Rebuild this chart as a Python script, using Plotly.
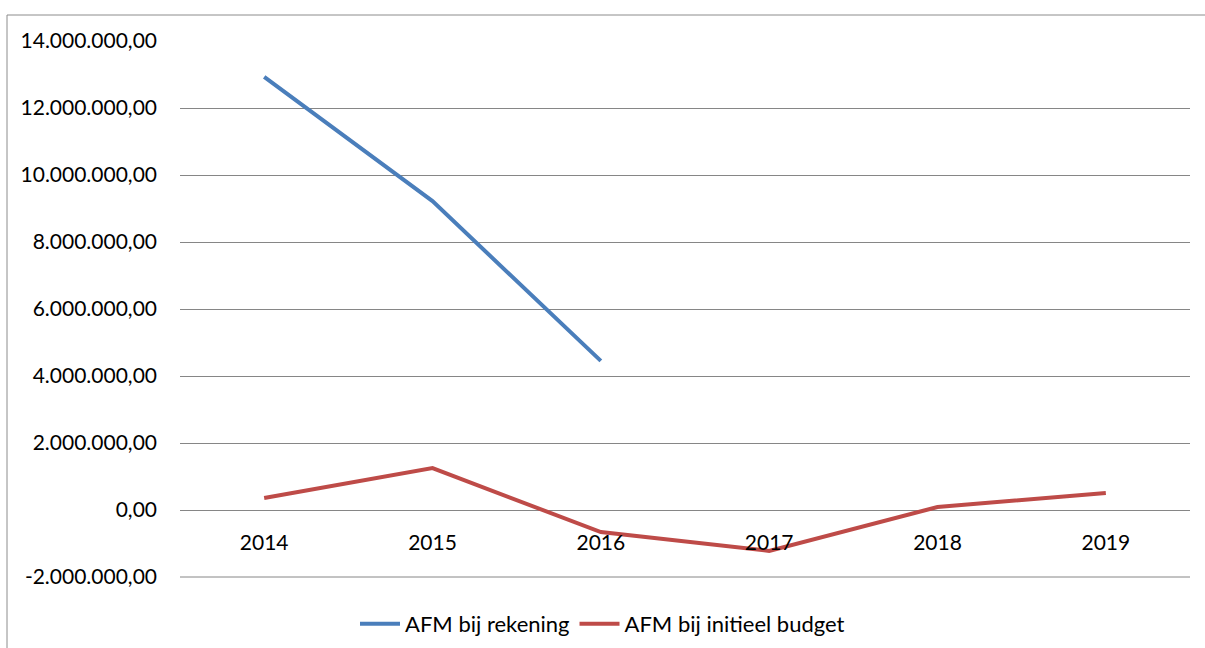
import plotly.graph_objects as go

years = ["2014", "2015", "2016", "2017", "2018", "2019"]
afm_rekening = [12930000, 9220000, 4450000, None, None, None]
afm_budget = [360000, 1250000, -660000, -1220000, 90000, 510000]

y_ticks = [-2000000, 0, 2000000, 4000000, 6000000, 8000000, 10000000, 12000000, 14000000]
y_tick_labels = ["-2.000.000,00", "0,00", "2.000.000,00", "4.000.000,00", "6.000.000,00",
                 "8.000.000,00", "10.000.000,00", "12.000.000,00", "14.000.000,00"]

FONT = "Lato, 'Open Sans', sans-serif"
FONT_SIZE = 21
GRID = "#868686"

fig = go.Figure()
fig.add_trace(go.Scatter(
    x=years, y=afm_rekening, mode="lines", name="AFM bij rekening",
    line=dict(color="#4A7EBB", width=4), connectgaps=False,
))
fig.add_trace(go.Scatter(
    x=years, y=afm_budget, mode="lines", name="AFM bij initieel budget",
    line=dict(color="#BE4B48", width=4),
))

# small padding so the outer gridlines stay visible
pad = 30000
y_min, y_max = y_ticks[0] - pad, y_ticks[-1] + pad
px_per_unit = 536 / (y_ticks[-1] - y_ticks[0])
edge = pad * px_per_unit
top, bottom = 41 - edge, 577 + edge
plot_h = bottom - top

fig.update_layout(
    width=1205, height=648,
    margin=dict(l=180, r=15, t=top, b=648 - bottom, autoexpand=False),
    paper_bgcolor="white", plot_bgcolor="white",
    font=dict(family=FONT, size=FONT_SIZE, color="#000000"),
    showlegend=True,
    legend=dict(orientation="h", x=0.5, xanchor="center", xref="container",
                y=(648 - 624) / 648, yanchor="middle", yref="container",
                font=dict(size=22), itemwidth=40, tracegroupgap=0),
    xaxis=dict(
        type="category", range=[-0.5, 5.5], showgrid=False, zeroline=False,
        showline=False, anchor="free", position=(0 - y_min) / (y_max - y_min),
        ticks="outside", ticklen=14, tickcolor="rgba(0,0,0,0)",
        tickfont=dict(size=FONT_SIZE),
    ),
    yaxis=dict(
        range=[y_min, y_max], tickvals=y_ticks, ticktext=y_tick_labels,
        showgrid=True, gridcolor=GRID, gridwidth=1,
        zeroline=True, zerolinecolor=GRID, zerolinewidth=1,
        showline=False, ticks="", ticklabelstandoff=22,
        tickfont=dict(size=FONT_SIZE),
    ),
    shapes=[
        dict(type="rect", xref="paper", yref="paper",
             x0=(7 - 180) / 1010, x1=1.2, y0=-0.3, y1=(bottom - 15) / plot_h,
             line=dict(color="#8C8C8C", width=1), fillcolor="rgba(0,0,0,0)", layer="below"),
        # lowest gridline
        dict(type="line", xref="paper", yref="y", x0=0, x1=1,
             y0=y_ticks[0], y1=y_ticks[0],
             line=dict(color=GRID, width=1), layer="below"),
    ],
)

fig.write_html("out.html")
